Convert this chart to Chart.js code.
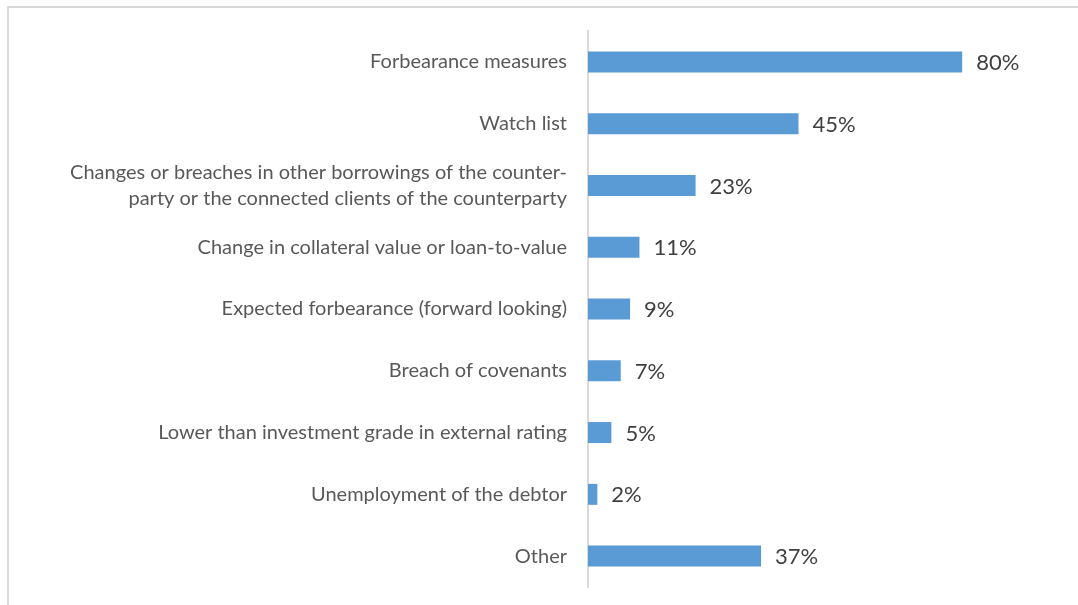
<!DOCTYPE html>
<html>
<head>
<meta charset="utf-8">
<script src="https://cdn.jsdelivr.net/npm/chart.js@4.4.0/dist/chart.umd.min.js"></script>
<style>
  html, body { margin: 0; padding: 0; background: #fff; }
  #wrap { position: relative; width: 1078px; height: 605px; }
  #frame { position: absolute; left: 7px; top: 6px; right: -4px; bottom: -4px; border-left: 2px solid #d9d9d9; border-top: 2px solid #d9d9d9; }
  canvas { position: absolute; left: 0; top: 0; }
</style>
</head>
<body>
<div id="wrap">
  <div id="frame"></div>
  <canvas id="chart" width="1078" height="605"></canvas>
</div>
<script>
const categories = [
  "Forbearance measures",
  "Watch list",
  ["Changes or breaches in other borrowings of the counter-", "party or the connected clients of the counterparty"],
  "Change in collateral value or loan-to-value",
  "Expected forbearance (forward looking)",
  "Breach of covenants",
  "Lower than investment grade in external rating",
  "Unemployment of the debtor",
  "Other"
];
const shares = [80, 45, 23, 11, 9, 7, 5, 2, 37];

// draws the "80%" style labels next to each bar
const valueLabels = {
  id: "valueLabels",
  afterDatasetsDraw(chart) {
    const ctx = chart.ctx;
    const meta = chart.getDatasetMeta(0);
    ctx.save();
    ctx.font = "22px Lato";
    ctx.fillStyle = "#404040";
    ctx.textAlign = "left";
    ctx.textBaseline = "middle";
    meta.data.forEach((bar, i) => {
      ctx.fillText(shares[i] + "%", bar.x + 14, bar.y + 1);
    });
    ctx.restore();
  }
};

const ctx = document.getElementById("chart").getContext("2d");
new Chart(ctx, {
  type: "bar",
  data: {
    labels: categories,
    datasets: [{
      data: shares,
      backgroundColor: "#5b9bd5",
      barPercentage: 0.34,
      categoryPercentage: 1.0
    }]
  },
  options: {
    indexAxis: "y",
    responsive: false,
    animation: false,
    layout: { padding: { left: 8, right: 69, top: 31, bottom: 18 } },
    plugins: { legend: { display: false }, tooltip: { enabled: false } },
    scales: {
      x: {
        display: false,
        min: 0,
        max: 90
      },
      y: {
        grid: { display: false },
        border: { display: true, color: "#d9d9d9", width: 2 },
        ticks: {
          color: "#595959",
          font: { family: "Lato", size: 20, lineHeight: 1.3 },
          padding: 13
        },
        afterFit: (scale) => {
          scale.width = 580;
          scale.paddingTop = 0;
          scale.paddingBottom = 0;
        }
      }
    }
  },
  plugins: [valueLabels]
});
</script>
</body>
</html>
